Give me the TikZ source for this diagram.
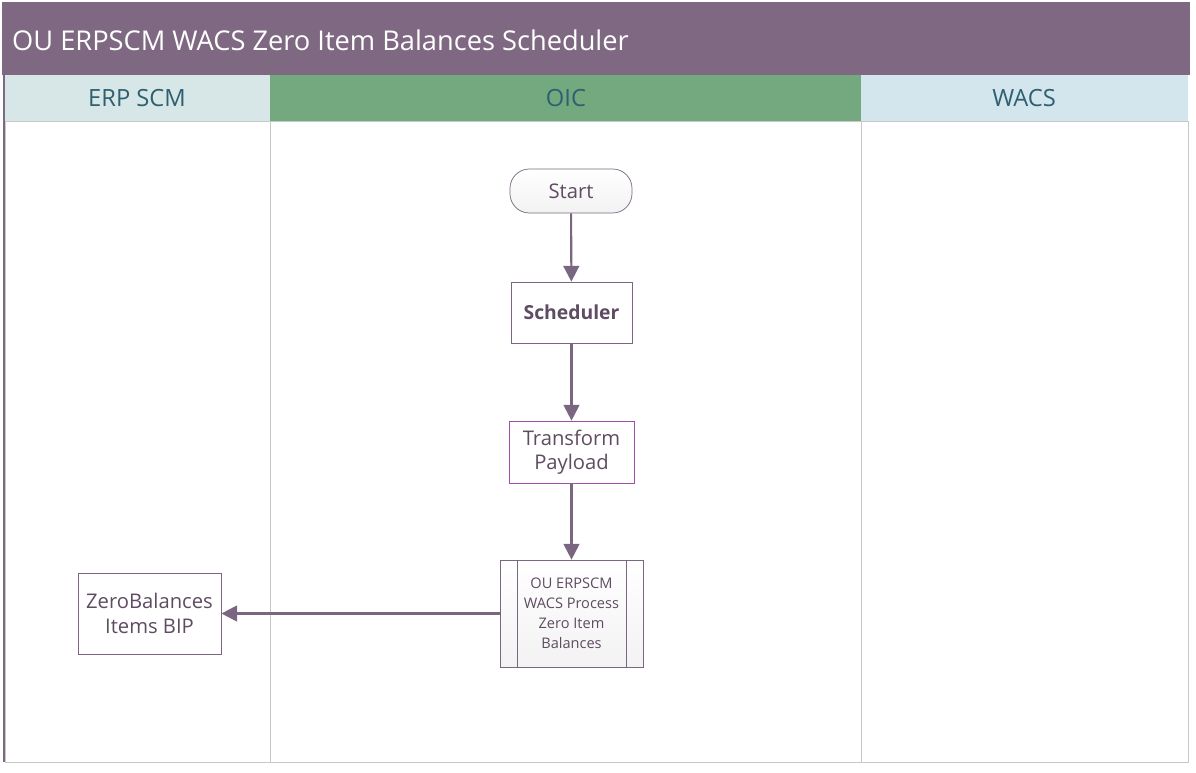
\documentclass[tikz,border=0pt]{standalone}
\usepackage{fontspec}
\setmainfont{Open Sans}
\usetikzlibrary{arrows.meta}
\definecolor{titlec}{HTML}{7F6882}
\definecolor{erpc}{HTML}{D7E6E6}
\definecolor{oicc}{HTML}{74A87F}
\definecolor{wacsc}{HTML}{D3E6EE}
\definecolor{txt}{HTML}{5F4B62}
\definecolor{hdr}{HTML}{2F5F70}
\definecolor{edge}{HTML}{7A6680}
\definecolor{trc}{HTML}{A050A8}
\definecolor{lane}{HTML}{C8C8C8}
\tikzset{
  box/.style={draw=edge, fill=white, text=txt, align=center, inner sep=0pt},
  flow/.style={draw=edge, line width=1.2pt, -{Triangle[width=9pt,length=9pt]}},
  hd/.style={text=hdr, font=\fontsize{13.5}{16}\selectfont}
}
\begin{document}
\begin{tikzpicture}[x=0.02cm,y=-0.02cm]
\useasboundingbox (0,0) rectangle (1196,773);
\fill[titlec] (2,2) rectangle (1190,75);
\node[anchor=west, text=white, font=\fontsize{15.5}{20}\selectfont] (title) at (6,40) {OU ERPSCM WACS Zero Item Balances Scheduler};
\fill[erpc] (5,75) rectangle (270,121);
\fill[oicc] (270,75) rectangle (861,121);
\fill[wacsc] (861,75) rectangle (1188,121);
\draw[lane] (5,121) rectangle (270,762);
\draw[lane] (270,121) rectangle (861,762);
\draw[lane] (861,121) rectangle (1188,762);
\draw[titlec, line width=1.5pt] (4,75) -- (4,762);
\node[hd] (h1) at (137,98) {ERP SCM};
\node[hd] (h2) at (566,98) {OIC};
\node[hd] (h3) at (1024,98) {WACS};
\node[box, rounded corners=11pt, minimum width=122*0.02cm, minimum height=44*0.02cm, top color=white, bottom color=gray!10, font=\fontsize{11.5}{14}\selectfont] (start) at (571,191) {Start};
\node[box, minimum width=121*0.02cm, minimum height=61*0.02cm, font=\bfseries\fontsize{11}{14}\selectfont] (sch) at (571.5,312.5) {Scheduler};
\node[box, draw=trc, minimum width=125*0.02cm, minimum height=62*0.02cm, font=\fontsize{11.5}{14}\selectfont] (tr) at (571.5,452) {Transform\\Payload};
\node[box, minimum width=143*0.02cm, minimum height=107*0.02cm, top color=white, bottom color=gray!10, font=\fontsize{8.3}{11.3}\selectfont] (proc) at (571.5,613.5) {OU ERPSCM\\WACS Process\\Zero Item\\Balances};
\draw[edge] (517,560) -- (517,667) (626,560) -- (626,667);
\node[box, minimum width=143*0.02cm, minimum height=81*0.02cm, font=\fontsize{11.5}{14}\selectfont] (zb) at (149.5,613.5) {ZeroBalances\\Items BIP};
\draw[flow] (start) -- (sch);
\draw[flow] (sch) -- (tr);
\draw[flow] (tr) -- (proc);
\draw[flow] (proc) -- (zb);
\end{tikzpicture}
\end{document}
